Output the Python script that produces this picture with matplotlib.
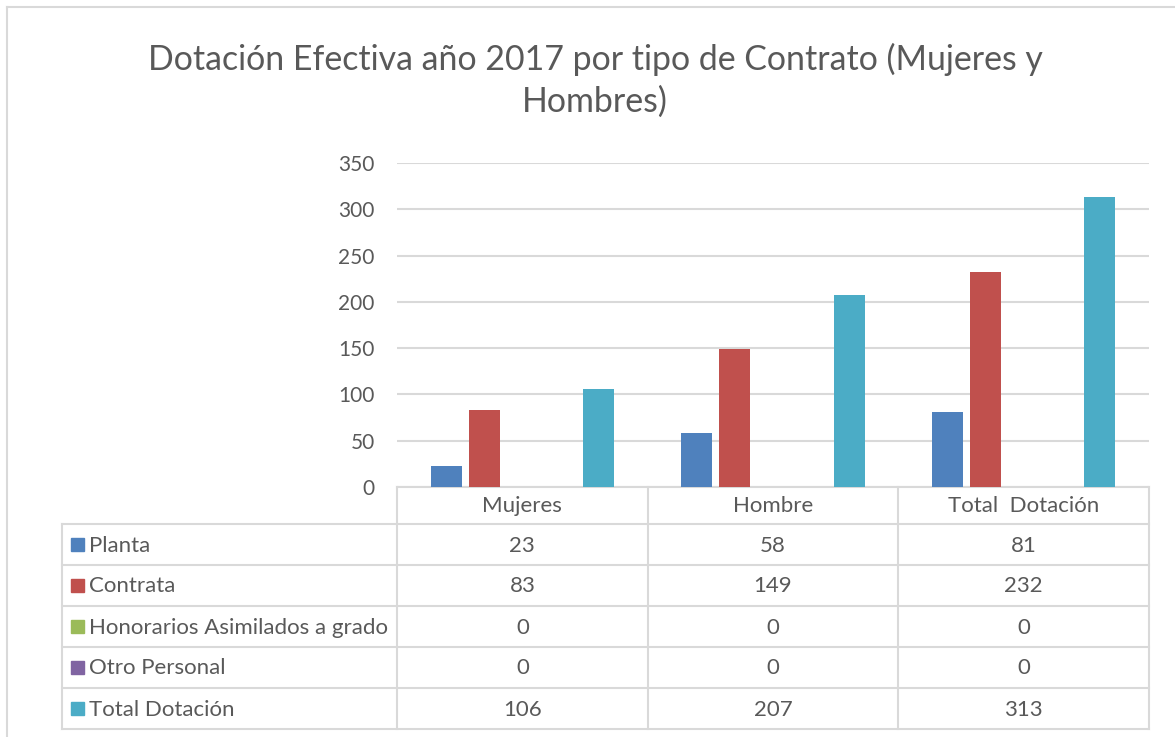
import numpy as np
import matplotlib.pyplot as plt

categories = ['Mujeres', 'Hombre', 'Total  Dotación']
series = ['Planta', 'Contrata', 'Honorarios Asimilados a grado', 'Otro Personal', 'Total Dotación']
planta = [23, 58, 81]
contrata = [83, 149, 232]
honorarios = [0, 0, 0]
otro = [0, 0, 0]
total = [106, 207, 313]
colors = ['#4F81BD', '#C0504D', '#9BBB59', '#8064A2', '#4BACC6']

plt.rcParams['font.family'] = ['Lato', 'DejaVu Sans']
txt = '#595959'
grid = '#D9D9D9'

W, H = 1175, 737
fig = plt.figure(figsize=(W / 100, H / 100), dpi=100)

# pixel layout of the Excel-style chart
px0, px1, py0, py1 = 397, 1149, 163, 487
table_left = 62
row_edges = [487, 524, 565, 606, 647, 688, 729]

# table / frame layer in pixel coords
tab = fig.add_axes([0, 0, 1, 1], zorder=0)
tab.set_xlim(0, W)
tab.set_ylim(H, 0)
tab.axis('off')

# outer chart frame (top and left only visible)
tab.plot([7, W], [7, 7], color=grid, lw=1.5)
tab.plot([7, 7], [7, H], color=grid, lw=1.5)

col_edges = np.linspace(px0, px1, len(categories) + 1)
for xe in col_edges:
    tab.plot([xe, xe], [row_edges[0], row_edges[-1]], color=grid, lw=1.5)
tab.plot([table_left, table_left], [row_edges[1], row_edges[-1]], color=grid, lw=1.5)
tab.plot([px0, px1], [row_edges[0], row_edges[0]], color=grid, lw=1.5)
for ye in row_edges[1:]:
    tab.plot([table_left, px1], [ye, ye], color=grid, lw=1.5)

col_mid = (col_edges[:-1] + col_edges[1:]) / 2
row_mid = [(row_edges[i] + row_edges[i + 1]) / 2 for i in range(len(row_edges) - 1)]

for xm, cat in zip(col_mid, categories):
    tab.text(xm, row_mid[0] + 1, cat, ha='center', va='center', fontsize=16, color=txt)

values = [planta, contrata, honorarios, otro, total]
for r, (name, vals, c) in enumerate(zip(series, values, colors)):
    ym = row_mid[r + 1]
    tab.add_patch(plt.Rectangle((71, ym - 6.5), 13, 13, color=c))
    tab.text(89, ym + 1, name, ha='left', va='center', fontsize=16, color=txt)
    for xm, v in zip(col_mid, vals):
        tab.text(xm, ym + 1, str(v), ha='center', va='center', fontsize=16, color=txt)

# bar chart
ax = fig.add_axes([px0 / W, 1 - py1 / H, (px1 - px0) / W, (py1 - py0) / H], zorder=1)
ax.set_facecolor('none')
x = np.arange(len(categories))
slot = 0.152
width = 0.124
for i, (vals, c) in enumerate(zip(values, colors)):
    ax.bar(x + (i - 2) * slot, vals, width, color=c, zorder=3)
ax.set_xlim(-0.5, 2.5)
ax.set_ylim(0, 350)
ax.set_yticks(range(0, 351, 50))
ax.yaxis.grid(True, color=grid, lw=1.5)
ax.set_axisbelow(True)
ax.set_xticks([])
for s in ax.spines.values():
    s.set_visible(False)
ax.tick_params(axis='y', length=0, labelsize=15, labelcolor=txt, pad=16)

fig.text(595 / W, 1 - 59 / H, 'Dotación Efectiva año 2017 por tipo de Contrato (Mujeres y',
         ha='center', va='center', fontsize=24.4, color=txt)
fig.text(595 / W, 1 - 102 / H, 'Hombres)', ha='center', va='center', fontsize=24.4, color=txt)

fig.savefig('out.png', dpi=100, facecolor='white')
